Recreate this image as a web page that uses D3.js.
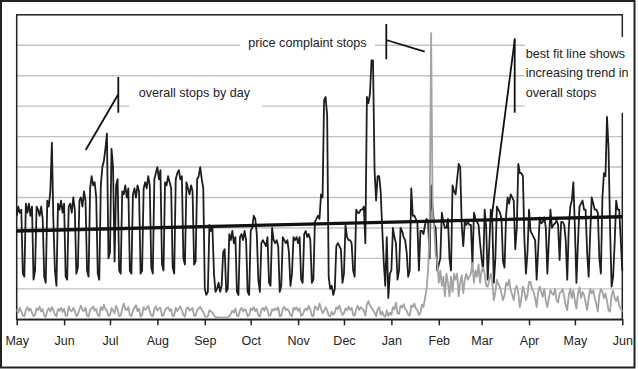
<!DOCTYPE html>
<html>
<head>
<meta charset="utf-8">
<script src="https://cdn.jsdelivr.net/npm/d3@7"></script>
<style>
  body { margin: 0; background: #fff; }
  text { font-family: "Liberation Sans", Arial, Helvetica, sans-serif; fill: #222; }
</style>
</head>
<body>
<div id="chart"></div>
<script>
// Data (daily, May 1 to Jun 1 of the next year), in gridline units
const monthLabels = ["May", "Jun", "Jul", "Aug", "Sep", "Oct", "Nov", "Dec", "Jan", "Feb", "Mar", "Apr", "May", "Jun"]

// overall stops by day, one week per row
const overallStops = [
  3.4, 3.7, 3.5, 3.6, 1.5, 1.4, 3.8,
  3.5, 3.8, 3.4, 3.7, 1.3, 1.6, 3.7,
  3.6, 3.4, 3.7, 3.3, 1.4, 1.2, 3.9,
  3.7, 4.2, 5.8, 3.2, 1.6, 1.1, 3.8,
  3.6, 3.9, 3.5, 3.8, 1.4, 1.3, 3.7,
  3.8, 3.5, 4.0, 3.6, 1.5, 1.7, 3.9,
  4.0, 3.7, 4.2, 3.9, 1.6, 1.4, 4.3,
  4.7, 4.4, 4.5, 4.0, 1.5, 1.3, 4.4,
  5.0, 5.2, 5.6, 6.1, 2.0, 2.2, 5.6,
  5.0, 1.9, 4.4, 4.6, 1.6, 1.5, 4.2,
  4.1, 4.4, 4.0, 4.3, 1.6, 1.5, 4.1,
  4.3, 4.0, 4.4, 4.2, 1.5, 1.6, 4.3,
  4.5, 4.3, 4.7, 4.4, 1.7, 1.5, 4.6,
  4.8, 5.0, 4.6, 4.9, 1.8, 1.6, 4.5,
  4.4, 4.7, 4.5, 4.3, 1.7, 1.5, 4.6,
  4.8, 4.9, 4.6, 4.7, 2.0, 1.8, 4.5,
  4.3, 4.1, 4.4, 4.2, 1.8, 1.9, 4.6,
  4.7, 5.0, 4.6, 4.3, 1.0, 0.8, 0.9,
  3.1, 2.9, 3.0, 1.5, 0.9, 1.0, 1.2,
  0.9, 1.1, 2.2, 2.3, 0.9, 1.0, 2.8,
  2.6, 2.9, 2.5, 2.7, 0.9, 0.8, 2.7,
  2.8, 2.6, 2.9, 2.6, 0.9, 0.8, 2.9,
  3.0, 3.4, 3.3, 2.8, 1.3, 0.9, 2.5,
  2.6, 2.5, 2.4, 2.7, 1.2, 1.1, 3.0,
  2.6, 2.5, 2.6, 2.4, 0.9, 1.1, 2.7,
  2.6, 2.5, 2.6, 2.2, 1.1, 1.5, 2.7,
  2.6, 2.7, 2.5, 2.7, 1.3, 1.2, 2.8,
  2.9, 2.7, 2.8, 2.6, 1.2, 1.3, 3.2,
  3.3, 3.4, 3.3, 4.1, 4.0, 7.2, 7.3,
  6.7, 1.4, 1.0, 1.1, 0.8, 1.0, 2.4,
  2.5, 2.4, 2.3, 1.2, 1.5, 3.1, 2.7,
  2.6, 2.6, 2.5, 1.6, 1.4, 3.6, 3.5,
  3.5, 3.6, 3.6, 3.7, 2.5, 7.3, 7.1,
  7.4, 8.5, 8.5, 4.9, 3.9, 4.7, 4.7,
  4.2, 3.0, 1.9, 1.1, 2.7, 0.7, 1.5,
  1.6, 3.0, 2.7, 2.5, 1.3, 1.6, 3.0,
  2.9, 2.7, 2.6, 2.2, 1.4, 1.6, 4.3,
  3.4, 3.4, 3.3, 3.2, 1.6, 2.9, 2.9,
  2.8, 3.1, 3.3, 3.2, 2.0, 4.4, 3.6,
  3.1, 3.0, 1.6, 1.8, 2.0, 3.5, 3.2,
  3.0, 3.0, 3.3, 2.0, 1.6, 4.4, 4.2,
  4.1, 4.6, 5.1, 5.0, 3.1, 2.4, 3.2,
  3.1, 3.2, 3.1, 3.1, 1.8, 3.5, 3.3,
  3.2, 3.1, 2.5, 2.0, 1.6, 3.6, 3.0,
  1.3, 2.4, 3.6, 3.2, 1.2, 2.0, 3.7,
  3.6, 3.5, 3.3, 1.9, 1.7, 3.4, 4.0,
  3.8, 4.1, 4.0, 3.9, 2.3, 3.0, 5.1,
  4.8, 4.8, 4.7, 2.6, 1.5, 2.2, 3.6,
  2.9, 2.8, 2.7, 2.6, 1.3, 2.3, 3.35,
  3.15, 3.2, 3.35, 3.0, 1.5, 2.6, 3.6,
  3.0, 3.1, 3.15, 3.25, 3.1, 1.95, 3.2,
  3.2, 3.1, 2.6, 1.3, 3.0, 3.7, 3.9,
  4.5, 3.0, 1.2, 2.5, 3.7, 3.8, 3.9,
  3.6, 3.6, 2.2, 1.4, 2.8, 4.0, 3.8,
  3.6, 3.6, 3.5, 2.0, 1.5, 4.0, 4.8,
  4.7, 6.65, 5.6, 3.0, 1.07, 1.4, 2.5,
  3.9, 3.6, 3.6, 2.6, 1.6
]

// price complaint stops, one week per row
const priceStops = [
  0.32, 0.22, 0.38, 0.25, 0.12, 0.10, 0.30,
  0.40, 0.28, 0.35, 0.22, 0.10, 0.14, 0.36,
  0.30, 0.42, 0.26, 0.33, 0.12, 0.08, 0.28,
  0.36, 0.25, 0.40, 0.30, 0.15, 0.10, 0.34,
  0.28, 0.38, 0.24, 0.35, 0.11, 0.12, 0.42,
  0.30, 0.26, 0.37, 0.28, 0.10, 0.15, 0.33,
  0.45, 0.30, 0.27, 0.38, 0.12, 0.09, 0.31,
  0.36, 0.42, 0.28, 0.34, 0.14, 0.10, 0.40,
  0.30, 0.48, 0.33, 0.29, 0.11, 0.13, 0.37,
  0.28, 0.20, 0.44, 0.32, 0.10, 0.12, 0.35,
  0.52, 0.34, 0.30, 0.41, 0.13, 0.10, 0.29,
  0.38, 0.46, 0.27, 0.35, 0.09, 0.14, 0.40,
  0.31, 0.36, 0.44, 0.26, 0.12, 0.10, 0.33,
  0.42, 0.29, 0.35, 0.38, 0.11, 0.13, 0.30,
  0.36, 0.40, 0.28, 0.33, 0.10, 0.12, 0.38,
  0.27, 0.35, 0.42, 0.30, 0.14, 0.09, 0.34,
  0.40, 0.28, 0.33, 0.37, 0.11, 0.12, 0.30,
  0.35, 0.42, 0.30, 0.25, 0.10, 0.08, 0.10,
  0.30, 0.26, 0.22, 0.12, 0.08, 0.06, 0.06,
  0.05, 0.06, 0.05, 0.06, 0.05, 0.06, 0.10,
  0.18, 0.28, 0.22, 0.35, 0.12, 0.10, 0.30,
  0.38, 0.26, 0.33, 0.29, 0.10, 0.13, 0.36,
  0.30, 0.40, 0.27, 0.34, 0.12, 0.09, 0.31,
  0.37, 0.28, 0.42, 0.30, 0.11, 0.14, 0.33,
  0.29, 0.36, 0.31, 0.40, 0.10, 0.12, 0.35,
  0.41, 0.30, 0.34, 0.27, 0.13, 0.10, 0.38,
  0.33, 0.39, 0.28, 0.36, 0.11, 0.15, 0.30,
  0.36, 0.30, 0.44, 0.32, 0.12, 0.10, 0.42,
  0.38, 0.30, 0.52, 0.35, 0.20, 0.28, 0.40,
  0.30, 0.12, 0.10, 0.25, 0.15, 0.22, 0.40,
  0.33, 0.45, 0.28, 0.14, 0.20, 0.36, 0.30,
  0.42, 0.31, 0.38, 0.15, 0.12, 0.34, 0.44,
  0.30, 0.40, 0.35, 0.28, 0.12, 0.50, 0.60,
  0.45, 0.38, 0.30, 0.22, 0.10, 0.32, 0.40,
  0.15, 0.25, 0.12, 0.08, 0.30, 0.10, 0.22,
  0.15, 0.40, 0.32, 0.55, 0.20, 0.18, 0.45,
  0.38, 0.50, 0.34, 0.28, 0.15, 0.12, 0.46,
  0.40, 0.52, 0.36, 0.30, 0.14, 0.20, 0.48,
  0.40, 0.70, 1.00, 1.60, 2.90, 9.40, 3.40,
  3.00, 2.10, 1.90, 1.20, 1.60, 1.10, 1.40,
  0.75, 1.50, 1.20, 0.75, 1.40, 0.90, 1.50,
  1.30, 1.50, 0.75, 1.20, 1.45, 0.86, 1.30,
  1.50, 1.30, 1.40, 1.50, 1.85, 1.20, 1.60,
  1.40, 1.80, 1.20, 1.60, 1.70, 1.50, 1.10,
  1.07, 1.30, 1.50, 1.20, 0.63, 0.90, 1.30,
  1.15, 1.07, 0.85, 0.63, 0.80, 1.20, 1.10,
  1.30, 0.96, 0.80, 0.63, 1.00, 1.10, 0.85,
  0.40, 0.70, 1.07, 0.90, 0.63, 0.80, 1.23,
  1.23, 1.00, 0.90, 0.70, 0.40, 0.90, 1.07,
  0.90, 0.74, 1.00, 0.60, 0.40, 0.70, 0.96,
  0.85, 0.80, 1.00, 0.63, 0.55, 0.85, 0.90,
  1.00, 0.75, 0.45, 0.30, 0.80, 1.00, 0.70,
  0.95, 0.60, 0.35, 0.85, 1.05, 0.70, 0.90,
  0.80, 0.55, 0.30, 0.70, 1.00, 0.85, 0.95,
  0.70, 0.50, 0.25, 0.80, 1.00, 0.90, 0.70,
  0.85, 0.60, 0.30, 0.25, 0.80, 0.95, 0.70,
  0.60, 0.75, 0.45, 0.35, 0.25
]

// best fit line, value at first and last day
const trendValues = [2.9, 3.37]

const annotationTexts = {
  overall: ["overall stops by day"],
  price: ["price complaint stops"],
  trend: ["best fit line shows", "increasing trend in", "overall stops"]
}

// Dimensions
const width = 638
const height = 369
const plotLeft = 16.7
const plotRight = 622.3
const plotTop = 14.8
const plotBottom = 319.3
const ink = "#222"

const startDate = new Date(2006, 4, 1)
const endDate = new Date(2007, 5, 1)
const days = d3.timeDay.range(startDate, d3.timeDay.offset(endDate, 1))

const x = d3.scaleTime().domain([startDate, endDate]).range([plotLeft, plotRight])
const y = d3.scaleLinear().domain([0, 10]).range([plotBottom, plotTop])

const svg = d3.select("#chart")
  .append("svg")
    .attr("width", width)
    .attr("height", height)

// outer frame
svg.append("rect")
  .attr("x", 1).attr("y", 1)
  .attr("width", 633.5).attr("height", 366.5)
  .attr("fill", "none")
  .attr("stroke", ink)
  .attr("stroke-width", 2)

// gridlines
svg.selectAll(".grid")
  .data(y.ticks(10).filter(function(d) { return d > 0 && d < 10 }))
  .enter().append("line")
  .attr("class", "grid")
  .attr("x1", plotLeft).attr("x2", plotRight)
  .attr("y1", function(d) { return y(d) })
  .attr("y2", function(d) { return y(d) })
  .attr("stroke", "#c2c2c2")
  .attr("stroke-width", 1.4)

// plot box
svg.append("rect")
  .attr("x", plotLeft).attr("y", y(10))
  .attr("width", plotRight - plotLeft).attr("height", y(0) - y(10))
  .attr("fill", "none")
  .attr("stroke", ink)
  .attr("stroke-width", 1.5)

// white patches behind annotation text
const patches = [
  {x: 240, y: 36, w: 135, h: 16},
  {x: 129, y: 82, w: 133, h: 31},
  {x: 524.7, y: 37, w: 102, h: 75.7}
]
svg.selectAll(".patch")
  .data(patches)
  .enter().append("rect")
  .attr("x", function(d) { return d.x })
  .attr("y", function(d) { return d.y })
  .attr("width", function(d) { return d.w })
  .attr("height", function(d) { return d.h })
  .attr("fill", "#fff")

const line = d3.line()
  .x(function(d, i) { return x(days[i]) })
  .y(function(d) { return y(d) })

svg.append("path")
  .datum(overallStops)
  .attr("d", line)
  .attr("fill", "none")
  .attr("stroke", "#1e1e1e")
  .attr("stroke-width", 1.8)
  .attr("stroke-linejoin", "round")

svg.append("path")
  .datum(priceStops)
  .attr("d", line)
  .attr("fill", "none")
  .attr("stroke", "#a3a3a3")
  .attr("stroke-width", 1.8)
  .attr("stroke-linejoin", "round")

// best fit line
svg.append("line")
  .attr("x1", x(startDate)).attr("y1", y(trendValues[0]))
  .attr("x2", x(endDate)).attr("y2", y(trendValues[1]))
  .attr("stroke", "#111")
  .attr("stroke-width", 3.4)

// x axis
const axis = d3.axisBottom(x)
  .tickValues(d3.timeMonth.range(startDate, d3.timeDay.offset(endDate, 1)))
  .tickFormat(function(d, i) { return monthLabels[i] })
  .tickSizeInner(6)
  .tickSizeOuter(0)

const gAxis = svg.append("g")
  .attr("transform", "translate(0," + plotBottom + ")")
  .call(axis)
gAxis.select(".domain").attr("stroke", ink).attr("stroke-width", 1.5)
gAxis.selectAll(".tick line").attr("stroke", ink).attr("stroke-width", 1.5)
gAxis.selectAll(".tick text")
  .attr("y", 25.8).attr("dy", null)
  .style("font-size", "12.5px")
  .style("font-family", "'Liberation Sans', Arial, sans-serif")
  .attr("fill", ink)

// annotations
const callouts = [
  [[118.3, 77], [118.3, 112.7]],
  [[118.3, 94.3], [85.7, 150]],
  [[386.3, 24], [386.3, 59.3]],
  [[386.3, 40], [424.7, 51.7]],
  [[514.7, 38.3], [514.7, 112.7]],
  [[514.7, 40], [491.5, 218.5]]
]
svg.selectAll(".callout")
  .data(callouts)
  .enter().append("path")
  .attr("class", "callout")
  .attr("d", function(d) { return d3.line()(d) })
  .attr("stroke", "#111")
  .attr("stroke-width", 1.8)

function addText(lines, tx, ty, lineHeight) {
  svg.append("g").selectAll("text")
    .data(lines)
    .enter().append("text")
    .attr("x", tx)
    .attr("y", function(d, i) { return ty + i * lineHeight })
    .style("font-size", "12.6px")
    .text(function(d) { return d })
}
addText(annotationTexts.overall, 138.7, 97.3, 0)
addText(annotationTexts.price, 248.3, 47, 0)
addText(annotationTexts.trend, 525.7, 57.5, 19.7)
</script>
</body>
</html>
